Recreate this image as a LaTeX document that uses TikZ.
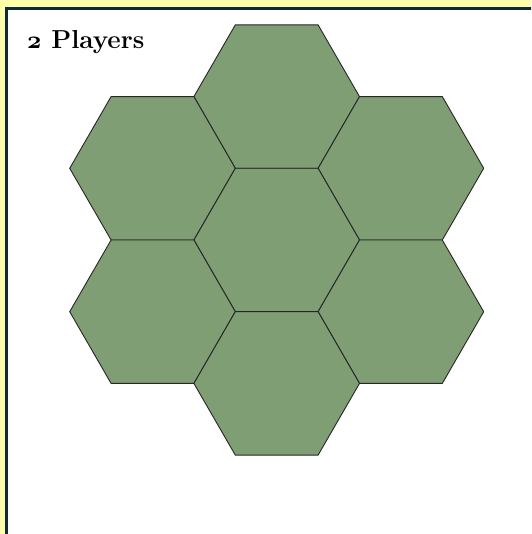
\documentclass[tikz,border=0pt]{standalone}
\usetikzlibrary{shapes.geometric}

\definecolor{paperyellow}{RGB}{255,255,170}
\definecolor{framedark}{RGB}{16,42,58}
\definecolor{hexgreen}{RGB}{127,158,116}

\newcommand{\boldold}[1]{{\usefont{OML}{cmm}{b}{it}#1}}

\begin{document}
\begin{tikzpicture}[
  x=1pt, y=-1pt,
  frame/.style={draw=framedark, fill=white, line width=2.8pt},
  hextile/.style={regular polygon, regular polygon sides=6, draw=black!85,
    fill=hexgreen, line width=0.9pt, inner sep=0pt, minimum size=165.6pt},
  heading/.style={font=\fontsize{26}{30}\selectfont\bfseries, anchor=base west, inner sep=0pt}
]
\path[use as bounding box] (0,0) rectangle (531,534);
\clip (0,0) rectangle (531,534);

\fill[paperyellow] (0,0) rectangle (531,534);
\draw[frame] (6.3,8.7) rectangle (545,550);

% tiles: centre ring of six round the middle one
\foreach \name/\cx/\cy in {hexN/276.7/96.6, hexNW/152.5/168.3, hexNE/400.9/168.3,
    hexC/276.7/240, hexSW/152.5/311.7, hexSE/400.9/311.7, hexS/276.7/383.4}
  \node[hextile] (\name) at (\cx,\cy) {};

\node[heading] (players) at (27,48.3) {\boldold{2} Players};
\end{tikzpicture}
\end{document}
